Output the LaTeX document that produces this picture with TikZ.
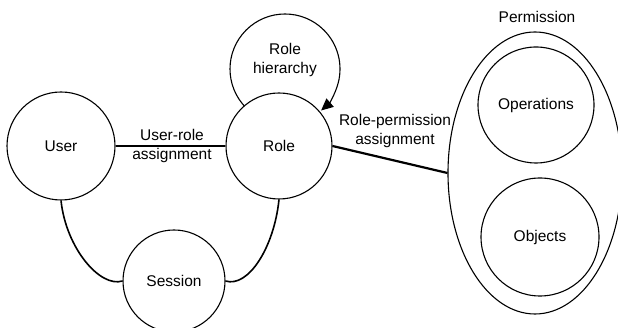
\documentclass[tikz,border=0pt]{standalone}
\usepackage{fontspec}
\setmainfont{Liberation Sans}
\usetikzlibrary{arrows.meta,shapes.geometric}
\begin{document}
\begin{tikzpicture}[x=1pt,y=1pt,
  every node/.style={font=\fontsize{15.5}{19}\selectfont},
  entity/.style={circle,draw,line width=1.1pt,fill=white,inner sep=0pt,align=center},
  conn/.style={line width=1.6pt},
  lbl/.style={align=center,inner sep=0pt}]
\useasboundingbox (0,0) rectangle (618,328);
% permission set
\node[ellipse,draw,line width=1.1pt,minimum width=174,minimum height=282,inner sep=0pt] (perm) at (535,155) {};
\node[lbl] (permlab) at (537,311) {Permission};
\node[entity,minimum size=116] (ops) at (536,223) {Operations};
\node[entity,minimum size=118] (obj) at (540,91) {Objects};
% role hierarchy loop
\coordinate (hc) at (285,259);
\node[lbl] (hier) at (285,268) {Role\\hierarchy};
\draw[line width=1.1pt,-{Triangle[length=12pt,width=11pt]}]
  ([shift={(225:55)}]hc) arc[start angle=225,end angle=-49,radius=55];
% main entities
\node[entity,minimum size=108] (user) at (61,182) {User};
\node[entity,minimum size=106] (role) at (279,182) {Role};
\node[entity,minimum size=102] (session) at (174,47) {Session};
% connectors
\draw[conn] (user.east) -- (role.west);
\draw[line width=2.2pt] (role.east) -- (perm.west);
\draw[conn] (user.south) .. controls (66,80) and (100,40) .. (session.west);
\draw[conn] (role.south) .. controls (274,80) and (248,40) .. (session.east);
% labels
\node[lbl] (urlab) at (172,182.5) {User-role\\assignment};
\node[lbl] (rplab) at (395,197) {Role-permission\\assignment};
\end{tikzpicture}
\end{document}
